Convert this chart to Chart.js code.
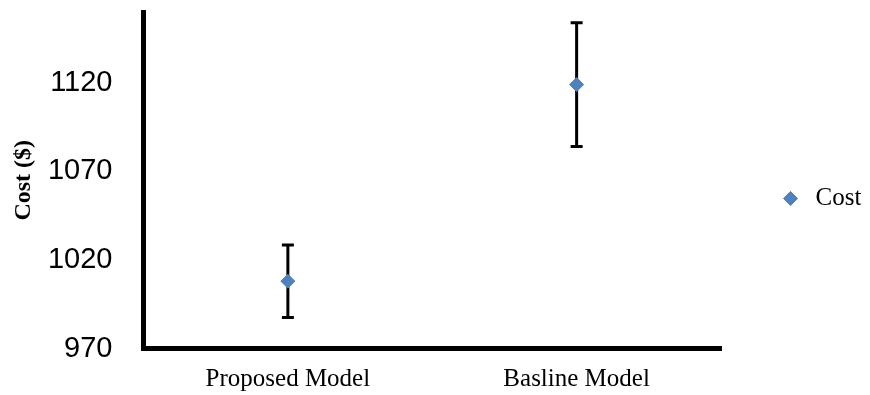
<!DOCTYPE html>
<html>
<head>
<meta charset="utf-8">
<script src="https://cdn.jsdelivr.net/npm/chart.js@4.4.1/dist/chart.umd.min.js"></script>
<style>
  html, body { margin: 0; padding: 0; background: #ffffff; }
  #wrap { width: 870px; height: 395px; position: relative; }
</style>
</head>
<body>
<div id="wrap"><canvas id="c"></canvas></div>
<script>
// ---- data ----
const categories = ["Proposed Model", "Basline Model"];
const costValues = [1008, 1119];
const costErrors = [20.5, 35];
const yTickValues = [970, 1020, 1070, 1120];
const seriesName = "Cost";

const errorBarPlugin = {
  id: 'errorBars',
  beforeDatasetsDraw(chart) {
    const ctx = chart.ctx;
    const xs = chart.scales.x, ys = chart.scales.y;
    ctx.save();
    ctx.strokeStyle = '#000000';
    ctx.lineWidth = 3;
    ctx.lineCap = 'butt';
    costValues.forEach((v, i) => {
      const x = xs.getPixelForValue(i);
      const yHi = ys.getPixelForValue(v + costErrors[i]);
      const yLo = ys.getPixelForValue(v - costErrors[i]);
      const cap = 6;
      ctx.beginPath();
      ctx.moveTo(x, yHi); ctx.lineTo(x, yLo);
      ctx.moveTo(x - cap, yHi); ctx.lineTo(x + cap, yHi);
      ctx.moveTo(x - cap, yLo); ctx.lineTo(x + cap, yLo);
      ctx.stroke();
    });
    ctx.restore();
  }
};

new Chart(document.getElementById('c'), {
  type: 'line',
  data: {
    labels: categories,
    datasets: [{
      label: seriesName,
      data: costValues,
      showLine: false,
      pointStyle: 'rectRot',
      pointRadius: 7,
      pointHoverRadius: 7,
      borderWidth: 1,
      backgroundColor: '#4F81BD',
      borderColor: '#4F81BD'
    }]
  },
  options: {
    responsive: true,
    maintainAspectRatio: false,
    animation: false,
    layout: { padding: { top: 2, bottom: 0, left: 0, right: 0 } },
    plugins: {
      tooltip: { enabled: false },
      title: {
        display: true,
        text: '',
        fullSize: false,
        padding: 0,
        font: { size: 10, lineHeight: 1 }
      },
      legend: {
        position: 'right',
        maxWidth: 149,
        labels: {
          usePointStyle: true,
          boxHeight: 10,
          boxWidth: 25,
          padding: 57,
          color: '#000000',
          font: { family: '"Liberation Serif", "Times New Roman", serif', size: 25 }
        }
      }
    },
    scales: {
      x: {
        type: 'category',
        offset: true,
        grid: { display: false, drawTicks: false },
        border: { display: true, color: '#000000', width: 5 },
        ticks: {
          color: '#000000',
          padding: 16,
          maxRotation: 0,
          font: { family: '"Liberation Serif", "Times New Roman", serif', size: 25 }
        },
        afterFit(scale) {
          scale.height = 46.5;
          scale.paddingLeft = 0; scale.paddingRight = 0;
        }
      },
      y: {
        min: 970,
        max: 1160,
        grid: { display: false, drawTicks: false },
        border: { display: true, color: '#000000', width: 5 },
        afterBuildTicks(scale) { scale.ticks = yTickValues.map(v => ({ value: v })); },
        ticks: {
          color: '#000000',
          padding: 31,
          callback: (v) => String(v),
          font: { family: '"Liberation Sans", Arial, sans-serif', size: 29 }
        },
        title: {
          display: true,
          text: 'Cost ($)',
          color: '#000000',
          padding: { top: 9, bottom: 0 },
          font: { family: '"Liberation Serif", "Times New Roman", serif', size: 24, weight: 'bold' }
        },
        afterFit(scale) {
          scale.width = 143.5;
          scale.paddingTop = 0; scale.paddingBottom = 0;
        }
      }
    }
  },
  plugins: [errorBarPlugin]
});
</script>
</body>
</html>
